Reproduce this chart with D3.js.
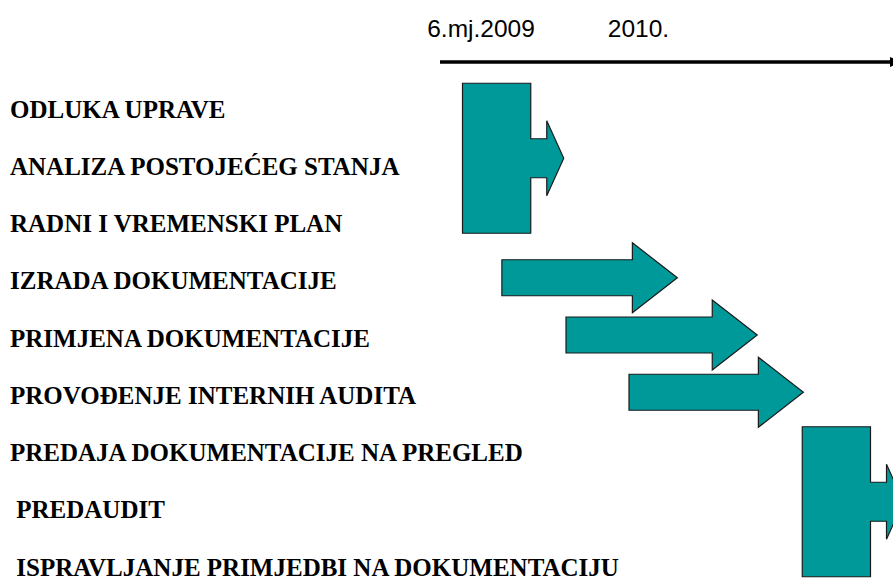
<!DOCTYPE html>
<html>
<head>
<meta charset="utf-8">
<script src="https://cdn.jsdelivr.net/npm/d3@7"></script>
<style>
  body { margin: 0; background: #fff; }
  svg { display: block; }
  .tick-label { font-family: "Liberation Sans", Arial, sans-serif; font-size: 24.5px; fill: #000; }
  .task-label { font-family: "Liberation Serif", "Times New Roman", serif; font-weight: bold; font-size: 25px; fill: #000; white-space: pre; }
</style>
</head>
<body>
<svg></svg>
<script>
const width = 893;
const height = 581;

//zadaci, odozgo prema dolje
const zadaci = [
  "ODLUKA UPRAVE",
  "ANALIZA POSTOJEĆEG STANJA",
  "RADNI I VREMENSKI PLAN",
  "IZRADA DOKUMENTACIJE",
  "PRIMJENA DOKUMENTACIJE",
  "PROVOĐENJE INTERNIH AUDITA",
  "PREDAJA DOKUMENTACIJE NA PREGLED",
  " PREDAUDIT",
  " ISPRAVLJANJE PRIMJEDBI NA DOKUMENTACIJU"
];

//vrijeme u mjesecima 2009. (13 = sijecanj 2010.)
const tickVrijednosti = [6, 13];
const tickOznake = ["6.mj.2009", "2010."];

//pojedinacne strelice
const strelicaZadatak = ["IZRADA DOKUMENTACIJE", "PRIMJENA DOKUMENTACIJE", "PROVOĐENJE INTERNIH AUDITA"];
const strelicaPocetak = [6.95, 9.8, 12.6];
const strelicaKraj = [14.75, 18.3, 20.35];

//blokovi koji pokrivaju vise zadataka
const blokOd = ["ODLUKA UPRAVE", "PREDAJA DOKUMENTACIJE NA PREGLED"];
const blokDo = ["RADNI I VREMENSKI PLAN", " ISPRAVLJANJE PRIMJEDBI NA DOKUMENTACIJU"];
const blokPocetak = [5.2, 20.3];
const blokKraj = [9.7, 24.8];

const boja = "#009999";

const svg = d3.select("svg").attr("width", width).attr("height", height);

const x = d3.scaleLinear().domain([4.2, 24.2]).range([440, 890]);
const y = d3.scalePoint().domain(zadaci).range([109, 567]);

//vrh strelice na osi
svg
  .append("defs")
  .append("marker")
  .attr("id", "vrh")
  .attr("markerUnits", "userSpaceOnUse")
  .attr("markerWidth", 14)
  .attr("markerHeight", 12)
  .attr("refX", 0)
  .attr("refY", 6)
  .attr("orient", "auto")
  .append("path")
  .attr("d", "M0,1 L12,6 L0,11 Z")
  .attr("fill", "#000");

//os vremena
svg
  .append("line")
  .attr("x1", x.range()[0])
  .attr("x2", x.range()[1])
  .attr("y1", 62)
  .attr("y2", 62)
  .attr("stroke", "#000")
  .attr("stroke-width", 3.5)
  .attr("marker-end", "url(#vrh)");

const os = svg
  .append("g")
  .attr("transform", "translate(0,62)")
  .call(
    d3
      .axisTop(x)
      .tickValues(tickVrijednosti)
      .tickFormat((d, i) => tickOznake[i])
      .tickSize(0)
      .tickPadding(25)
  );
os.select(".domain").remove();
os.selectAll("text").attr("class", "tick-label");

//oznake zadataka
svg
  .selectAll(".task-label")
  .data(zadaci)
  .join("text")
  .attr("class", "task-label")
  .attr("x", 10)
  .attr("y", (d) => y(d) + 8.5)
  .text((d) => d);

//strelice
const strelice = strelicaZadatak.map((t, i) => ({ t, p: strelicaPocetak[i], k: strelicaKraj[i] }));
svg
  .selectAll(".strelica")
  .data(strelice)
  .join("path")
  .attr("class", "strelica")
  .attr("d", (d) => {
    const x0 = x(d.p), xt = x(d.k), yc = y(d.t) - 3;
    const s = 18, h = 35, l = 45;
    return `M${x0},${yc - s}H${xt - l}V${yc - h}L${xt},${yc}L${xt - l},${yc + h}V${yc + s}H${x0}Z`;
  })
  .attr("fill", boja)
  .attr("stroke", "#1a1a1a")
  .attr("stroke-width", 1.2);

//blokovi sa strelicom
const blokovi = blokOd.map((t, i) => ({ od: t, do: blokDo[i], p: blokPocetak[i], k: blokKraj[i] }));
svg
  .selectAll(".blok")
  .data(blokovi)
  .join("path")
  .attr("class", "blok")
  .attr("d", (d) => {
    const x0 = x(d.p), xt = x(d.k);
    const yc = (y(d.od) + y(d.do)) / 2 - 8;
    const H = 75, s = 19.5, h = 37.5;
    const x1 = xt - 33, x2 = xt - 17;
    return `M${x0},${yc - H}H${x1}V${yc - s}H${x2}V${yc - h}L${xt},${yc}L${x2},${yc + h}V${yc + s}H${x1}V${yc + H}H${x0}Z`;
  })
  .attr("fill", boja)
  .attr("stroke", "#1a1a1a")
  .attr("stroke-width", 1.2);
</script>
</body>
</html>
